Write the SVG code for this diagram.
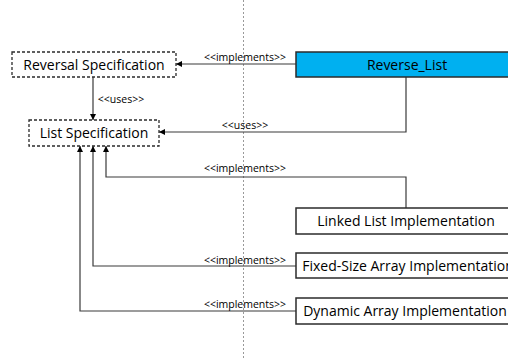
<svg xmlns="http://www.w3.org/2000/svg" width="508" height="360" viewBox="0 0 508 360">
<style>
.box{fill:#fff;stroke:#2b2b2b;stroke-width:1.5}
.spec{fill:#fff;stroke:#2b2b2b;stroke-width:1.3;stroke-dasharray:3,2}
.t{font-family:"Open Sans","Liberation Sans",sans-serif;font-size:14px;fill:#000;text-anchor:middle}
.lbl{font-family:"Open Sans","Liberation Sans",sans-serif;font-size:10.5px;fill:#000;text-anchor:middle}
.c{fill:none;stroke:#3a3a3a;stroke-width:1.2;marker-end:url(#ah)}
</style>
<defs>
<marker id="ah" viewBox="0 0 8 8" refX="8" refY="4" markerWidth="6" markerHeight="6" markerUnits="userSpaceOnUse" orient="auto">
<path d="M0,0 L8,4 L0,8 Z" fill="#000"/>
</marker>
</defs>
<rect width="508" height="360" fill="#fff"/>
<line x1="243.5" y1="0" x2="243.5" y2="360" stroke="#999" stroke-width="1" stroke-dasharray="2,2"/>
<g id="connectors">
<path class="c" d="M296,64 H176"/>
<text class="lbl" x="245" y="61">&lt;&lt;implements&gt;&gt;</text>
<path class="c" d="M93,77 V120"/>
<text class="lbl" x="121" y="103">&lt;&lt;uses&gt;&gt;</text>
<path class="c" d="M406,77 V132 H159"/>
<text class="lbl" x="245" y="129">&lt;&lt;uses&gt;&gt;</text>
<path class="c" d="M406,208 V177 H106 V146"/>
<text class="lbl" x="245" y="172">&lt;&lt;implements&gt;&gt;</text>
<path class="c" d="M296,266 H93 V146"/>
<text class="lbl" x="245" y="264">&lt;&lt;implements&gt;&gt;</text>
<path class="c" d="M296,311 H80 V146"/>
<text class="lbl" x="245" y="308">&lt;&lt;implements&gt;&gt;</text>
</g>
<g id="reversal-spec">
<rect class="spec" x="12" y="52" width="164" height="25"/>
<text class="t" x="94" y="69.5">Reversal Specification</text>
</g>
<g id="list-spec">
<rect class="spec" x="29" y="120" width="130" height="26"/>
<text class="t" x="94" y="138">List Specification</text>
</g>
<g id="reverse-list">
<rect x="296" y="52" width="222" height="25" fill="#00b0f0" stroke="#2b2b2b" stroke-width="1.5"/>
<text class="t" x="407" y="69.5">Reverse_List</text>
</g>
<g id="linked-list">
<rect class="box" x="296" y="208" width="222" height="26"/>
<text class="t" x="406" y="226">Linked List Implementation</text>
</g>
<g id="fixed-array">
<rect class="box" x="296" y="253" width="222" height="25"/>
<text class="t" x="408" y="270.5">Fixed-Size Array Implementation</text>
</g>
<g id="dynamic-array">
<rect class="box" x="296" y="298" width="222" height="26"/>
<text class="t" x="405" y="316">Dynamic Array Implementation</text>
</g>
</svg>
